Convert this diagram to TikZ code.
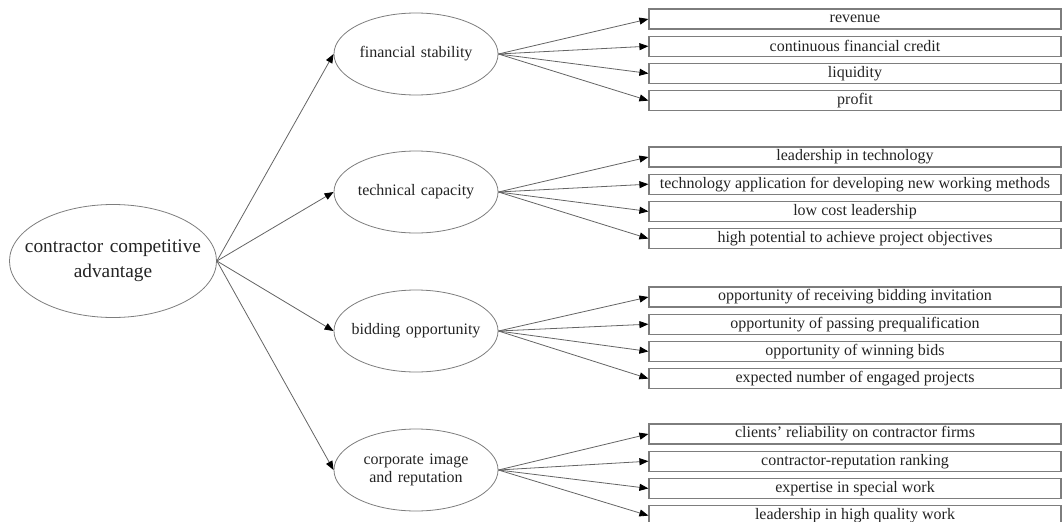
\documentclass[tikz,border=0pt]{standalone}
\usepackage{fontspec}
\setmainfont{Liberation Serif}
\usetikzlibrary{chains,positioning,shapes.geometric,arrows.meta}
\definecolor{inkgray}{RGB}{35,35,35}
\definecolor{linegray}{RGB}{100,100,100}
\definecolor{framegray}{RGB}{125,125,125}
\tikzstyle{goal}=[draw=framegray,line width=0.6pt,ellipse,text width=140pt,inner xsep=-15.1pt,inner ysep=0pt,minimum height=84.75pt,align=center,font=\fontsize{14.5}{18.75}\selectfont]
\tikzstyle{criterion}=[draw=framegray,line width=0.6pt,ellipse,text width=100pt,inner xsep=-6.5pt,inner ysep=0pt,minimum height=61.5pt,align=center,font=\fontsize{12}{13.75}\selectfont]
\tikzstyle{factor}=[draw=framegray,line width=0.9pt,minimum width=309pt,minimum height=15pt,inner sep=0pt,font=\fontsize{12}{14}\selectfont]
\tikzstyle{link}=[draw=linegray,line width=0.6pt,-{Triangle[length=6.75pt,width=5.25pt,color=black]}]

\begin{document}
\begin{tikzpicture}[x=0.75pt,y=-0.75pt,text=inkgray]
\useasboundingbox (0,0) rectangle (1063,521);
\node [goal] (root) at (113,261) {contractor competitive\\advantage};
\node [criterion] (finance) at (416,54) {financial stability};
\node [criterion] (technique) at (416,192) {technical capacity};
\node [criterion] (bidding) at (416,331) {bidding opportunity};
\node [criterion] (image) at (416,470) {corporate image\\and reputation};
\begin{scope}[shift={(855,19)}, start chain=finance going below, node distance=4.5pt]
    \node [on chain=finance,factor] {revenue};
    \node [on chain=finance,factor] {continuous financial credit};
    \node [on chain=finance,factor] {liquidity};
    \node [on chain=finance,factor] {profit};
\end{scope}
\begin{scope}[shift={(855,157)}, start chain=technique going below, node distance=4.5pt]
    \node [on chain=technique,factor] {leadership in technology};
    \node [on chain=technique,factor] {technology application for developing new working methods};
    \node [on chain=technique,factor] {low cost leadership};
    \node [on chain=technique,factor] {high potential to achieve project objectives};
\end{scope}
\begin{scope}[shift={(855,297)}, start chain=bidding going below, node distance=4.5pt]
    \node [on chain=bidding,factor] {opportunity of receiving bidding invitation};
    \node [on chain=bidding,factor] {opportunity of passing prequalification};
    \node [on chain=bidding,factor] {opportunity of winning bids};
    \node [on chain=bidding,factor] {expected number of engaged projects};
\end{scope}
\begin{scope}[shift={(855,434)}, start chain=image going below, node distance=4.5pt]
    \node [on chain=image,factor] {clients’ reliability on contractor firms};
    \node [on chain=image,factor] {contractor-reputation ranking};
    \node [on chain=image,factor] {expertise in special work};
    \node [on chain=image,factor] {leadership in high quality work};
\end{scope}
\foreach \crit in {finance,technique,bidding,image} {
    \draw [link] (root.east) -- (\crit.west);
    \foreach \i in {1,...,4}
        \draw [link] (\crit.east) -- (\crit-\i.west);
}
\end{tikzpicture}
\end{document}
